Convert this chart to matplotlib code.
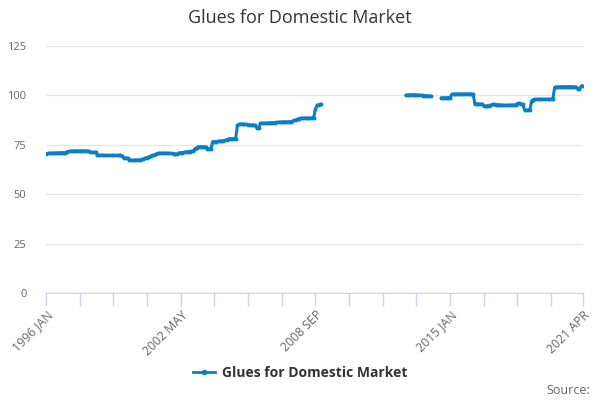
import numpy as np
import pandas as pd
import matplotlib
matplotlib.use('Agg')
import matplotlib.pyplot as plt
from matplotlib.lines import Line2D

# monthly index values, one list per year (None = no data)
v1996 = [70.5, 70.6, 70.7, 70.7, 70.8, 70.8, 70.9, 70.9, 71.0, 71.0, 71.0, 71.1]
v1997 = [71.5, 71.7, 71.8, 71.8, 71.9, 71.9, 71.9, 71.9, 71.9, 71.9, 71.9, 71.9]
v1998 = [71.8, 71.3, 71.2, 71.2, 71.2, 69.8, 69.7, 69.7, 69.6, 69.6, 69.6, 69.6]
v1999 = [69.6, 69.6, 69.6, 69.6, 69.6, 69.6, 69.6, 69.5, 68.3, 68.3, 68.2, 67.4]
v2000 = [67.2, 67.2, 67.2, 67.3, 67.3, 67.4, 67.6, 67.8, 68.2, 68.5, 68.9, 69.3]
v2001 = [69.6, 69.8, 70.3, 70.6, 70.7, 70.7, 70.8, 70.8, 70.7, 70.7, 70.6, 70.6]
v2002 = [70.5, 70.3, 70.4, 70.9, 71.0, 71.1, 71.2, 71.4, 71.5, 71.6, 71.7, 71.8]
v2003 = [73.0, 73.5, 74.0, 74.0, 74.0, 74.0, 73.9, 72.9, 72.9, 72.9, 76.5, 76.6]
v2004 = [76.6, 76.7, 76.8, 77.0, 77.0, 77.2, 77.5, 78.0, 78.1, 78.1, 78.1, 78.0]
v2005 = [84.8, 85.3, 85.5, 85.5, 85.3, 85.3, 85.2, 85.1, 85.0, 85.0, 84.9, 83.5]
v2006 = [83.3, 85.8, 85.9, 85.9, 86.0, 86.0, 86.1, 86.1, 86.2, 86.2, 86.3, 86.3]
v2007 = [86.5, 86.5, 86.6, 86.6, 86.6, 86.7, 86.7, 86.8, 87.3, 87.6, 88.0, 88.3]
v2008 = [88.5, 88.5, 88.5, 88.5, 88.5, 88.5, 88.5, 88.6, 93.0, 95.0, 95.3, 95.6]
v2009 = [None] * 12
v2010 = [None] * 12
v2011 = [None] * 12
v2012 = [None] * 11 + [100.0]
v2013 = [100.2, 100.2, 100.3, 100.3, 100.3, 100.2, 100.2, 100.1, 100.0, 99.9, 99.9, 99.8]
v2014 = [99.7, 99.7, None, None, None, None, None, 98.8, 98.8, 98.8, 98.8, 98.8]
v2015 = [98.9, 100.6, 100.6, 100.6, 100.7, 100.7, 100.7, 100.7, 100.7, 100.7, 100.7, 100.7]
v2016 = [100.7, 100.6, 95.8, 95.7, 95.6, 95.6, 95.6, 94.8, 94.6, 94.7, 94.8, 95.2]
v2017 = [95.4, 95.4, 95.3, 95.3, 95.2, 95.1, 95.0, 95.0, 95.0, 95.0, 95.0, 95.1]
v2018 = [95.1, 95.3, 95.9, 96.1, 95.7, 95.5, 92.7, 92.5, 92.5, 92.7, 97.2, 97.9]
v2019 = [98.0, 98.0, 98.0, 98.0, 98.0, 98.0, 98.0, 98.0, 98.0, 98.0, 98.1, 104.0]
v2020 = [104.2, 104.3, 104.4, 104.4, 104.4, 104.4, 104.4, 104.4, 104.4, 104.4, 104.3, 104.3]
v2021 = [103.2, 103.2, 104.6, 105.0]

y_ticks = [0, 25, 50, 75, 100, 125]
series_name = 'Glues for Domestic Market'

values = (v1996 + v1997 + v1998 + v1999 + v2000 + v2001 + v2002 + v2003 + v2004
          + v2005 + v2006 + v2007 + v2008 + v2009 + v2010 + v2011 + v2012 + v2013
          + v2014 + v2015 + v2016 + v2017 + v2018 + v2019 + v2020 + v2021)
values = np.array([np.nan if v is None else v for v in values], dtype=float)
months = pd.period_range('1996-01', periods=len(values), freq='M')
month_labels = [f"{p.year} {p.strftime('%b').upper()}" for p in months]
x = np.arange(len(values))

color = '#0a7fc4'
plt.rcParams['font.family'] = ['Open Sans', 'DejaVu Sans']

fig = plt.figure(figsize=(6, 4), dpi=100)
ax = fig.add_axes([46 / 600, 107 / 400, 537 / 600, 247 / 400])

ax.plot(x, values, color=color, linewidth=2.2, marker='o', markersize=2.8,
        markeredgewidth=0, solid_capstyle='round')

ax.set_xlim(0, len(values) - 1)
ax.set_ylim(0, 125)
ax.set_yticks(y_ticks)
ax.set_yticklabels([str(t) for t in y_ticks], color='#666666', fontsize=8)
ax.grid(axis='y', color='#e6e6e6', linewidth=1)
ax.set_axisbelow(True)

tick_pos = list(range(0, len(values), 19)) + [len(values) - 1]
ax.set_xticks(tick_pos)
labs = []
for t in tick_pos:
    if t % 76 == 0 or t == len(values) - 1:
        labs.append(month_labels[t])
    else:
        labs.append('')
ax.set_xticklabels(labs, rotation=45, ha='right', rotation_mode='anchor',
                   color='#666666', fontsize=8.8)
ax.tick_params(axis='x', length=9, color='#ccd6eb', width=1, pad=2)
ax.tick_params(axis='y', length=0, pad=14)

for s in ['top', 'right', 'left']:
    ax.spines[s].set_visible(False)
ax.spines['bottom'].set_color('#ccd6eb')

fig.text(0.5, 1 - 18 / 400, series_name, ha='center', va='center',
         fontsize=13, color='#333333')

handle = Line2D([0], [0], color=color, linewidth=2, marker='o', markersize=3)
fig.legend(handles=[handle], labels=[series_name], loc='center',
           bbox_to_anchor=(0.5, 1 - 373 / 400), frameon=False,
           prop={'weight': 'bold', 'size': 10}, labelcolor='#333333',
           handlelength=1.6, handletextpad=0.5)

fig.text(590 / 600, 1 - 390 / 400, 'Source:', ha='right', va='center',
         fontsize=9, color='#666666')

fig.savefig('out.png', dpi=100)
